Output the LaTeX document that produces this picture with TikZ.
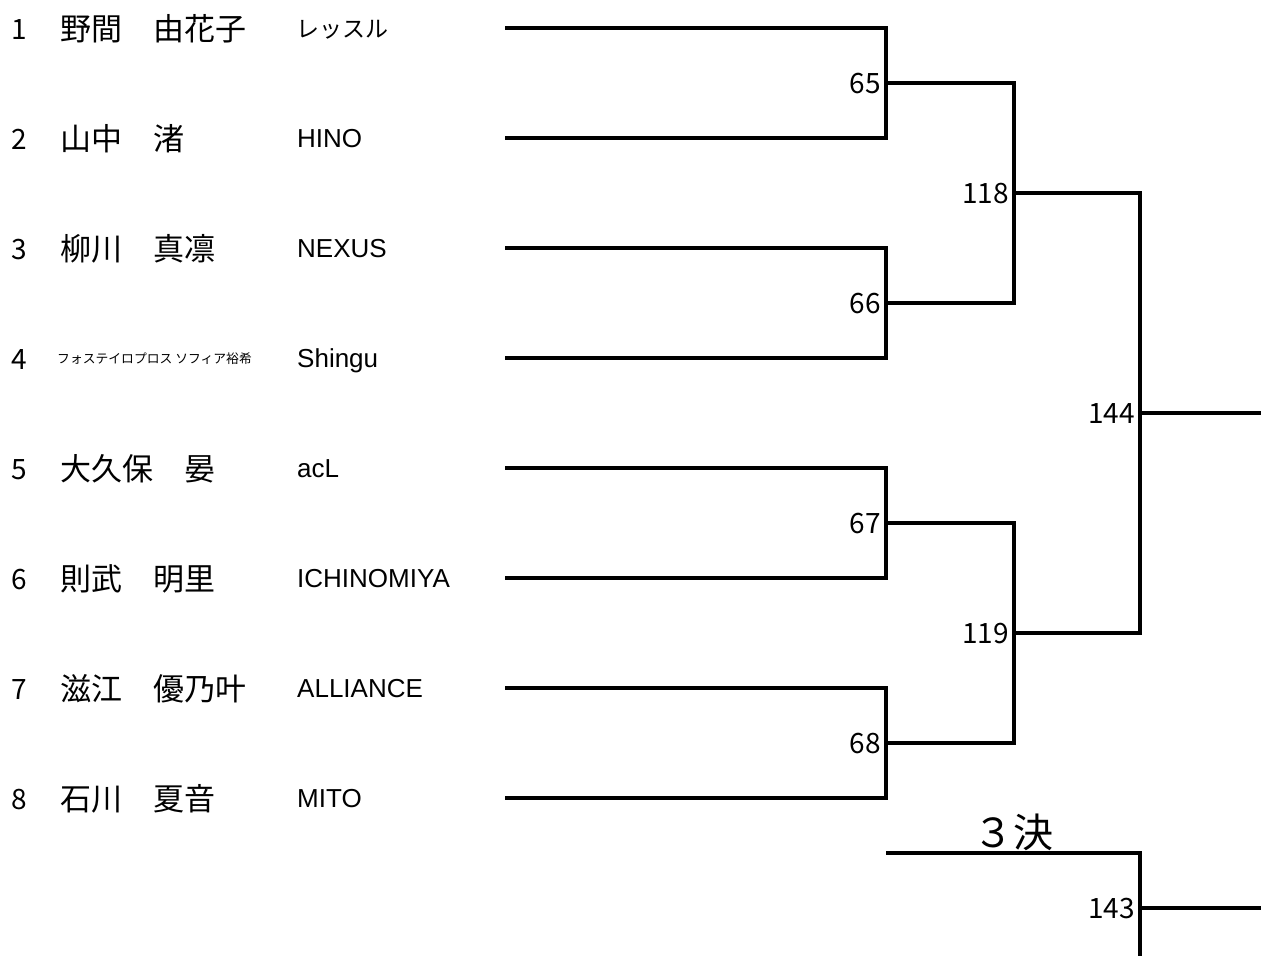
\documentclass[tikz,border=0pt]{standalone}
\usepackage{fontspec}
\setmainfont{Liberation Sans}
\newfontfamily\jp{Noto Sans CJK JP}
\begin{document}
\begin{tikzpicture}[x=1pt,y=-1pt,
  br/.style={line width=3.2pt,line join=miter},
  seed/.style={anchor=base west,inner sep=0pt,font=\jp\fontsize{28}{30}\selectfont},
  pname/.style={anchor=base west,inner sep=0pt,font=\jp\fontsize{31}{34}\selectfont},
  small/.style={anchor=base west,inner sep=0pt,font=\jp\fontsize{12.8}{14}\selectfont},
  team/.style={anchor=base west,inner sep=0pt,font=\fontsize{26}{28}\selectfont},
  teamjp/.style={anchor=base west,inner sep=0pt,font=\jp\fontsize{23}{28}\selectfont},
  num/.style={anchor=base east,inner sep=0pt,font=\jp\fontsize{28}{30}\selectfont},
  title/.style={anchor=base,inner sep=0pt,font=\jp\fontsize{40}{44}\selectfont}]
\useasboundingbox (0,0) rectangle (1261,956);
\fill[white] (0,0) rectangle (1261,956);
% entrants
\node[seed] (s1) at (11,39) {1};
\node[seed] (s2) at (11,149) {2};
\node[seed] (s3) at (11,259) {3};
\node[seed] (s4) at (11,369) {4};
\node[seed] (s5) at (11,479) {5};
\node[seed] (s6) at (11,589) {6};
\node[seed] (s7) at (11,699) {7};
\node[seed] (s8) at (11,809) {8};
\node[pname] (n1) at (60,40) {野間　由花子};
\node[pname] (n2) at (60,150) {山中　渚};
\node[pname] (n3) at (60,260) {柳川　真凛};
\node[small] (n4) at (57,363) {フォステイロプロス ソフィア裕希};
\node[pname] (n5) at (60,480) {大久保　晏};
\node[pname] (n6) at (60,590) {則武　明里};
\node[pname] (n7) at (60,700) {滋江　優乃叶};
\node[pname] (n8) at (60,810) {石川　夏音};
\node[teamjp] (t1) at (296,37) {レッスル};
\node[team] (t2) at (297,147) {HINO};
\node[team] (t3) at (297,257) {NEXUS};
\node[team] (t4) at (297,367) {Shingu};
\node[team] (t5) at (297,477) {acL};
\node[team] (t6) at (297,587) {ICHINOMIYA};
\node[team] (t7) at (297,697) {ALLIANCE};
\node[team] (t8) at (297,807) {MITO};
% coordinates
\coordinate (p1) at (505,28);
\coordinate (p2) at (505,138);
\coordinate (p3) at (505,248);
\coordinate (p4) at (505,358);
\coordinate (p5) at (505,468);
\coordinate (p6) at (505,578);
\coordinate (p7) at (505,688);
\coordinate (p8) at (505,798);
\coordinate (j65) at (886,83);
\coordinate (j66) at (886,303);
\coordinate (j67) at (886,523);
\coordinate (j68) at (886,743);
\coordinate (j118) at (1014,193);
\coordinate (j119) at (1014,633);
\coordinate (j144) at (1140,413);
\coordinate (o144) at (1261,413);
\coordinate (q1) at (886,853);
\coordinate (j143) at (1140,908);
\coordinate (q2) at (1140,956);
\coordinate (o143) at (1261,908);
% bracket
\draw[br] (p1) -| (j65) |- (p2);
\draw[br] (p3) -| (j66) |- (p4);
\draw[br] (p5) -| (j67) |- (p6);
\draw[br] (p7) -| (j68) |- (p8);
\draw[br] (j65) -| (j118) |- (j66);
\draw[br] (j67) -| (j119) |- (j68);
\draw[br] (j118) -| (j144) |- (j119);
\draw[br] (j144) -- (o144);
\draw[br] (q1) -| (j143) -- (q2);
\draw[br] (j143) -- (o143);
% match numbers
\node[num] (m65) at (881,93) {65};
\node[num] (m66) at (881,313) {66};
\node[num] (m67) at (881,533) {67};
\node[num] (m68) at (881,753) {68};
\node[num] (m118) at (1009,203) {118};
\node[num] (m119) at (1009,643) {119};
\node[num] (m144) at (1135,423) {144};
\node[num] (m143) at (1135,918) {143};
\node[title] (ttl) at (1013,847) {３決};
\end{tikzpicture}
\end{document}
